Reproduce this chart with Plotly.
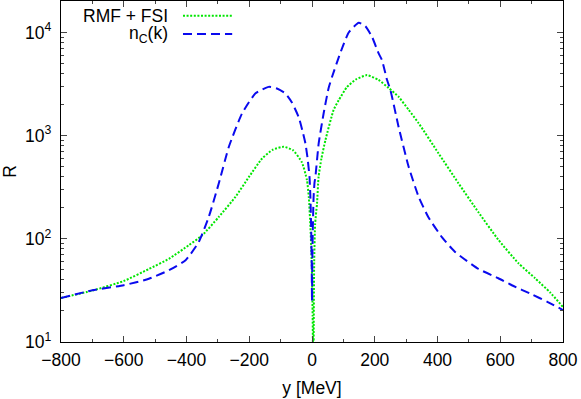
import plotly.graph_objects as go

# n_C(k) curve (blue dashed)
y_nc = [-800, -700, -600, -520, -456, -403, -361, -329, -297, -265, -223, -180,
        -138, -110, -85, -64, -42, -30, -21, -14, -8, -5, -2.5, -1, 0, 1, 2.5, 5,
        8, 10.8, 21.3, 37, 53, 64, 90, 117, 149, 170, 191, 212, 223, 239, 250,
        276, 308, 340, 371, 414, 456, 531, 594, 637, 700, 750, 800]
r_nc = [26.7, 31.7, 35.5, 41, 49.6, 62, 93, 163, 345, 780, 1640, 2570,
        2970, 2850, 2570, 2100, 1500, 1100, 840, 600, 398, 250, 120, 60, 25, 60, 120, 250,
        350, 398, 840, 1640, 2900, 3720, 6300, 10000, 12400, 11500, 9100, 6300, 5400, 3480, 2760,
        1215, 500, 255, 162, 104, 74.6, 51, 41.5, 35.5, 29, 24.5, 20.4]

# RMF + FSI curve (green dotted)
y_fsi = [-800, -700, -600, -520, -456, -392, -350, -297, -244, -201, -159, -125,
         -90, -60, -32, -16, -10, -5, -2, 0, 2, 3.5, 4.5, 5.5, 7, 10, 16, 21, 30,
         43, 69, 85, 111, 140, 175, 212, 244, 276, 308, 340, 403, 467, 531, 594,
         658, 711, 760, 800]
r_fsi = [26.7, 31.5, 39, 51, 64, 87, 108, 163, 255, 398, 601, 730,
         780, 720, 550, 370, 250, 130, 75, 45, 18, 6, 3, 15, 60, 140, 220, 398, 600,
         910, 1780, 2200, 2950, 3500, 3860, 3470, 2900, 2380, 1780, 1320, 676, 345, 180, 98,
         58, 41.5, 30, 21.8]

x_ticks = [-800, -600, -400, -200, 0, 200, 400, 600, 800]
y_ticks = [10, 100, 1000, 10000]
y_ticktext = ["10<sup>1</sup>", "10<sup>2</sup>", "10<sup>3</sup>", "10<sup>4</sup>"]
y_minor = [m * 10 ** e for e in range(1, 5) for m in range(2, 10)]

green = "#00e600"
blue = "#0a0aee"
font = dict(family="Liberation Sans, Arial, sans-serif", size=17.5, color="black")

fig = go.Figure()

fig.add_trace(go.Scatter(
    x=y_fsi, y=r_fsi, mode="lines", name="RMF + FSI",
    line=dict(color=green, width=2, dash="2px,1.6px", shape="spline", smoothing=0.5),
    showlegend=False
))
fig.add_trace(go.Scatter(
    x=y_nc, y=r_nc, mode="lines", name="n<sub>C</sub>(k)",
    line=dict(color=blue, width=2, dash="9px,5px", shape="spline", smoothing=0.5),
    showlegend=False
))

# legend drawn by hand (gnuplot style: text on the left, sample on the right)
legend_rows = [("RMF + FSI", green, "2px,1.6px", 0.957),
               ("n<sub>C</sub>(k)", blue, "9px,5px", 0.903)]
for label, col, dash, yy in legend_rows:
    fig.add_shape(type="line", xref="paper", yref="paper",
                  x0=0.243, x1=0.341, y0=yy, y1=yy,
                  line=dict(color=col, width=2, dash=dash))
    fig.add_annotation(xref="paper", yref="paper", x=0.218, y=yy, text=label,
                       showarrow=False, xanchor="right", yanchor="middle", font=font)

fig.update_layout(
    width=581, height=399,
    margin=dict(l=61, r=18, t=1, b=57),
    plot_bgcolor="white", paper_bgcolor="white",
    font=font,
    xaxis=dict(
        range=[-800, 800], tickvals=x_ticks, ticks="inside", ticklen=6, tickwidth=1,
        showline=True, linecolor="black", linewidth=1.2, mirror="allticks",
        showgrid=False, zeroline=False, automargin=False, ticklabelstandoff=2,
        minor=dict(dtick=100, tick0=0, ticks="inside", ticklen=3, tickwidth=1, showgrid=False),
        title=dict(text="y [MeV]", standoff=12, font=font),
    ),
    yaxis=dict(
        type="log", range=[1, 4.305], tickvals=y_ticks, ticktext=y_ticktext,
        ticks="inside", ticklen=6, tickwidth=1, ticklabelstandoff=5,
        showline=True, linecolor="black", linewidth=1.2, mirror="allticks",
        showgrid=False, zeroline=False, automargin=False,
        minor=dict(tickvals=y_minor, ticks="inside", ticklen=3, tickwidth=1, showgrid=False),
        title=dict(text="R", standoff=11, font=font),
    ),
)

# the page body has a default 8px margin; drop it so the figure sits at the corner
fig.write_html("out.html", config={"displayModeBar": False},
               post_script="document.body.style.margin='0';")
